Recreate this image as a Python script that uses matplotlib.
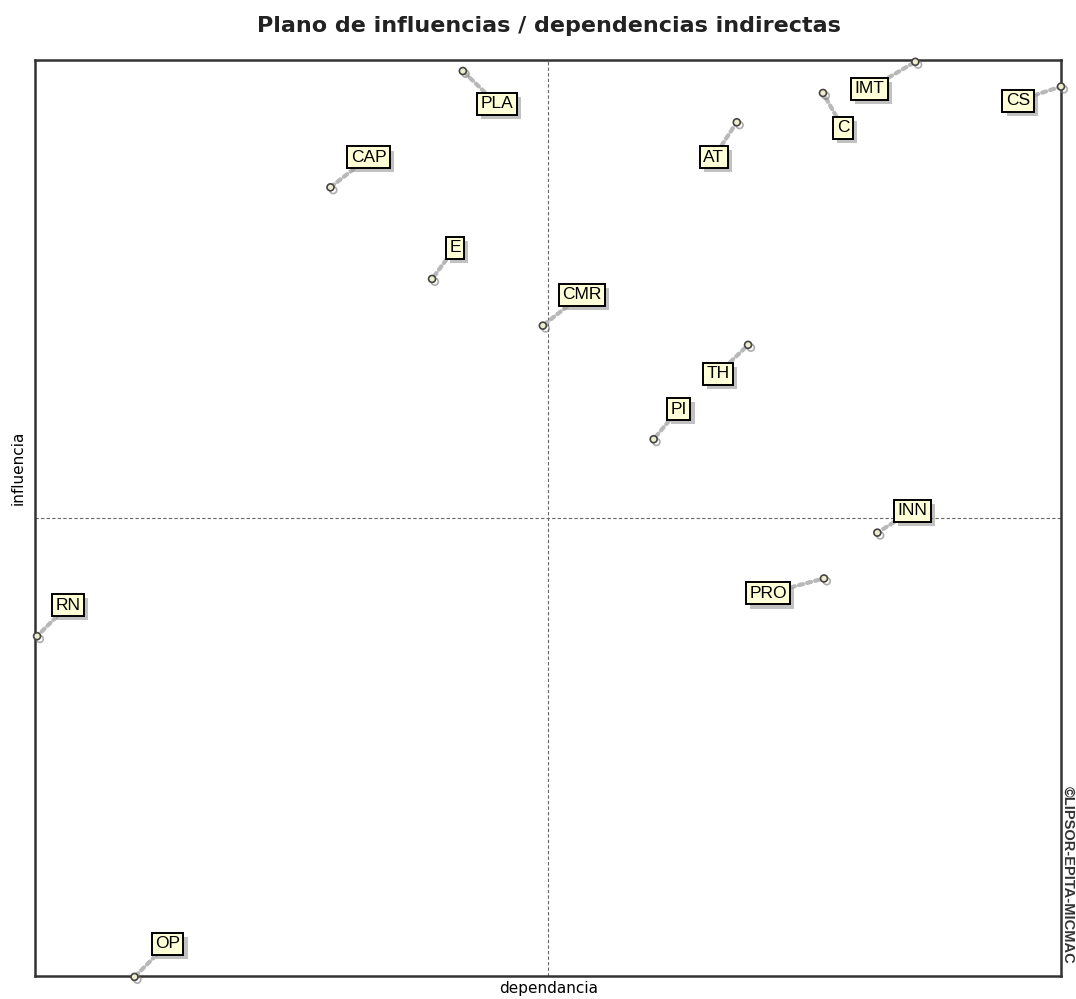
import matplotlib.pyplot as plt
import matplotlib.patheffects as pe

# indirect influence / dependence (arbitrary MICMAC units, 0-100)
labels = ['PLA', 'CAP', 'E', 'CMR', 'AT', 'C', 'IMT', 'CS', 'TH', 'PI', 'INN', 'PRO', 'RN', 'OP']
dependencia = [41.7, 28.8, 38.7, 49.5, 68.4, 76.8, 85.8, 100.0, 69.5, 60.3, 82.1, 76.9, 0.2, 9.7]
influencia = [98.8, 86.1, 76.1, 71.0, 93.2, 96.4, 99.8, 97.1, 68.9, 58.6, 48.4, 43.4, 37.1, -0.1]
mean_dep = 50.0
mean_inf = 50.0

# label offsets in pixels (dx right, dy up)
offsets = [(34, -33), (38, 30), (23, 31), (39, 31), (-23, -35), (20, -35), (-46, -27),
           (-43, -14), (-30, -29), (25, 30), (35, 22), (-56, -15), (31, 31), (33, 33)]

W, H = 1076, 999
fig = plt.figure(figsize=(W / 100, H / 100), dpi=100)
ax = fig.add_axes([35 / W, 23 / H, 1026 / W, 916 / H])
ax.set_xlim(0, 100)
ax.set_ylim(0, 100)
ax.set_xticks([])
ax.set_yticks([])
for s in ax.spines.values():
    s.set_linewidth(1.8)
    s.set_color('#333333')

ax.axvline(mean_dep, color='#666666', lw=0.8, ls=(0, (3, 2)))
ax.axhline(mean_inf, color='#666666', lw=0.8, ls=(0, (3, 2)))

shadow = [pe.SimplePatchShadow(offset=(3, -3), shadow_rgbFace='#999999', alpha=0.6), pe.Normal()]
for lab, x, y, (dx, dy) in zip(labels, dependencia, influencia, offsets):
    ax.annotate(lab, xy=(x, y), xytext=(dx, dy), textcoords='offset pixels',
                ha='center', va='center', fontsize=12.5, family='Liberation Sans',
                bbox=dict(boxstyle='square,pad=0.2', fc='#ffffd8', ec='black', lw=1.4),
                arrowprops=dict(arrowstyle='-', color='#b8b8b8', lw=3, ls=(0, (1, 1)),
                                shrinkA=0, shrinkB=2),
                annotation_clip=False, zorder=5)
    t = ax.texts[-1]
    t.get_bbox_patch().set_path_effects(shadow)
    ax.plot(x, y, 'o', ms=5, mfc='#eeeecc', mec='#444444', mew=1.2, clip_on=False, zorder=6,
            path_effects=[pe.SimpleLineShadow(offset=(2, -2), shadow_color='#777777', alpha=0.6), pe.Normal()])

fig.text(549 / W, 1 - 26 / H, 'Plano de influencias / dependencias indirectas',
         ha='center', va='center', fontsize=16, fontweight='bold', color='#222222')
fig.text(549 / W, 1 - 989 / H, 'dependancia', ha='center', va='center', fontsize=11)
fig.text(18 / W, 1 - 468 / H, 'influencia', ha='center', va='center', fontsize=11, rotation=90)
fig.text(1068 / W, 1 - 875 / H, '©LIPSOR-EPITA-MICMAC', ha='center', va='center',
         fontsize=10.5, fontweight='bold', rotation=-90, color='#333333',
         family='Liberation Sans')

fig.savefig('out.png', dpi=100)
